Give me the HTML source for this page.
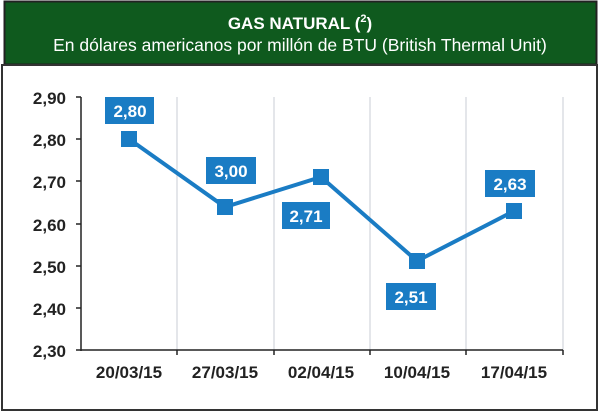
<!DOCTYPE html><html><head><style>
body{margin:0;width:600px;height:412px;background:#fff;overflow:hidden;font-family:"Liberation Sans",Arial,sans-serif}
</style></head><body>
<svg width="600" height="412" xmlns="http://www.w3.org/2000/svg" font-family="Liberation Sans, Arial, sans-serif">
<rect x="4.5" y="1.5" width="592" height="63" fill="#0f5a1e" stroke="#222" stroke-width="2"/>
<text x="300" y="29" text-anchor="middle" fill="#fff" font-weight="bold" font-size="17">GAS NATURAL (<tspan font-size="11" dy="-7">2</tspan><tspan dy="7">)</tspan></text>
<text x="300" y="51" text-anchor="middle" fill="#fff" font-size="17.5">En dólares americanos por millón de BTU (British Thermal Unit)</text>
<rect x="2" y="65" width="595" height="345" fill="#fff" stroke="#333" stroke-width="2"/>
<g stroke="#c8ccd4" stroke-width="1">
<line x1="177" y1="97" x2="177" y2="350"/><line x1="274" y1="97" x2="274" y2="350"/><line x1="370" y1="97" x2="370" y2="350"/><line x1="466" y1="97" x2="466" y2="350"/><line x1="563" y1="97" x2="563" y2="350"/>
</g>
<g stroke="#222" stroke-width="1.5">
<line x1="81" y1="97" x2="81" y2="351"/><line x1="81" y1="350" x2="563" y2="350"/>
<line x1="76" y1="97" x2="81" y2="97"/><line x1="76" y1="139" x2="81" y2="139"/><line x1="76" y1="181" x2="81" y2="181"/><line x1="76" y1="224" x2="81" y2="224"/><line x1="76" y1="266" x2="81" y2="266"/><line x1="76" y1="308" x2="81" y2="308"/><line x1="76" y1="350" x2="81" y2="350"/>
<line x1="177" y1="350" x2="177" y2="355"/><line x1="274" y1="350" x2="274" y2="355"/><line x1="370" y1="350" x2="370" y2="355"/><line x1="466" y1="350" x2="466" y2="355"/><line x1="563" y1="350" x2="563" y2="355"/>
</g>
<g font-size="17" font-weight="bold" fill="#222" text-anchor="end">
<text x="66" y="104">2,90</text><text x="66" y="146">2,80</text><text x="66" y="188">2,70</text><text x="66" y="231">2,60</text><text x="66" y="273">2,50</text><text x="66" y="315">2,40</text><text x="66" y="357">2,30</text>
</g>
<g font-size="17" font-weight="bold" fill="#222" text-anchor="middle">
<text x="129" y="378">20/03/15</text><text x="225" y="378">27/03/15</text><text x="321" y="378">02/04/15</text><text x="417" y="378">10/04/15</text><text x="514" y="378">17/04/15</text>
</g>
<polyline points="129,139 225,207 321,177 417,261 514,211" fill="none" stroke="#1a7cc4" stroke-width="4"/>
<g fill="#1a7cc4">
<rect x="121" y="131" width="16" height="16"/><rect x="217" y="199" width="16" height="16"/><rect x="313" y="169" width="16" height="16"/><rect x="409" y="253" width="16" height="16"/><rect x="506" y="203" width="16" height="16"/>
<rect x="105" y="97" width="49" height="27"/><rect x="206" y="157" width="50" height="27"/><rect x="282" y="202" width="48" height="27"/><rect x="386" y="283" width="50" height="27"/><rect x="485" y="170" width="50" height="27"/>
</g>
<g font-size="17" font-weight="bold" fill="#fff" text-anchor="middle">
<text x="130" y="117">2,80</text><text x="231" y="177">3,00</text><text x="306" y="222">2,71</text><text x="411" y="303">2,51</text><text x="510" y="190">2,63</text>
</g>
</svg>
</body></html>
